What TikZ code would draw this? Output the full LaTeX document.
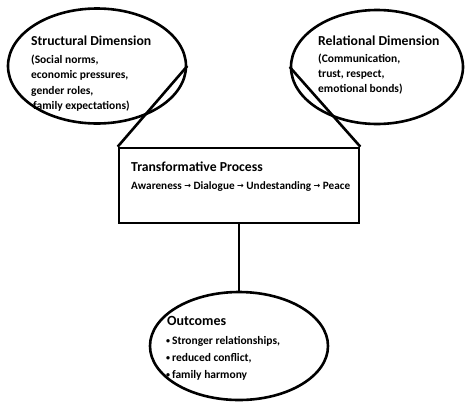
\documentclass[tikz,border=0pt]{standalone}
\usepackage{fontspec}
\setmainfont{Carlito}
\newfontfamily\symf{DejaVu Sans}
\usetikzlibrary{shapes.geometric}
\newcommand{\arr}{{\symf\fontsize{8}{9}\selectfont\bfseries\raisebox{0.6pt}{→}}}
\newcommand{\bul}{{\fontsize{8}{9}\selectfont\raisebox{0.8pt}{•}}}
\begin{document}
\begin{tikzpicture}[x=1pt,y=-1pt,
  outl/.style={draw=black,line width=2.6pt},
  oval/.style={outl,ellipse,inner sep=0pt,fill=white},
  ttl/.style={font=\fontsize{13.7}{15}\selectfont\bfseries,inner sep=0pt,anchor=base west},
  body/.style={font=\fontsize{11.5}{15.5}\selectfont\bfseries,inner sep=0pt,anchor=base west,align=left},
  conn/.style={draw=black,line width=2.6pt}]
\useasboundingbox (0,0) rectangle (465,402);
% shapes
\node[oval,minimum width=178pt,minimum height=115pt] (sd) at (97,66) {};
\node[oval,minimum width=172pt,minimum height=114pt] (rd) at (377,67) {};
\node[outl,rectangle,minimum width=240pt,minimum height=75pt,inner sep=0pt] (tp) at (239,185.5) {};
\node[oval,minimum width=178pt,minimum height=108pt] (oc) at (239,346) {};
% connectors
\draw[conn] (sd.east) -- (tp.north west);
\draw[conn] (rd.west) -- (tp.north east);
\draw[conn] (tp.south) -- (oc.north);
% texts
\node[ttl] (sdt) at (31,45) {Structural Dimension};
\node[body] (sd1) at (31,63) {(Social norms,};
\node[body] (sd2) at (31,78.5) {economic pressures,};
\node[body] (sd3) at (31,94) {gender roles,};
\node[body] (sd4) at (33,109.5) {family expectations)};
\node[ttl] (rdt) at (318,45) {Relational Dimension};
\node[body] (rd1) at (318,62) {(Communication,};
\node[body] (rd2) at (318,77) {trust, respect,};
\node[body] (rd3) at (318,92) {emotional bonds)};
\node[ttl] (tpt) at (131,171) {Transformative Process};
\node[body,font=\fontsize{11.2}{12}\selectfont\bfseries] (tp1) at (131,189) {Awareness \arr{} Dialogue \arr{} Undestanding \arr{} Peace};
\node[ttl,font=\fontsize{14}{15}\selectfont\bfseries] (oct) at (167,325) {Outcomes};
\node[body] (oc1) at (166,344) {\bul\,Stronger relationships,};
\node[body] (oc2) at (166,361) {\bul\,reduced conflict,};
\node[body] (oc3) at (166,378) {\bul\,family harmony};
\end{tikzpicture}
\end{document}
